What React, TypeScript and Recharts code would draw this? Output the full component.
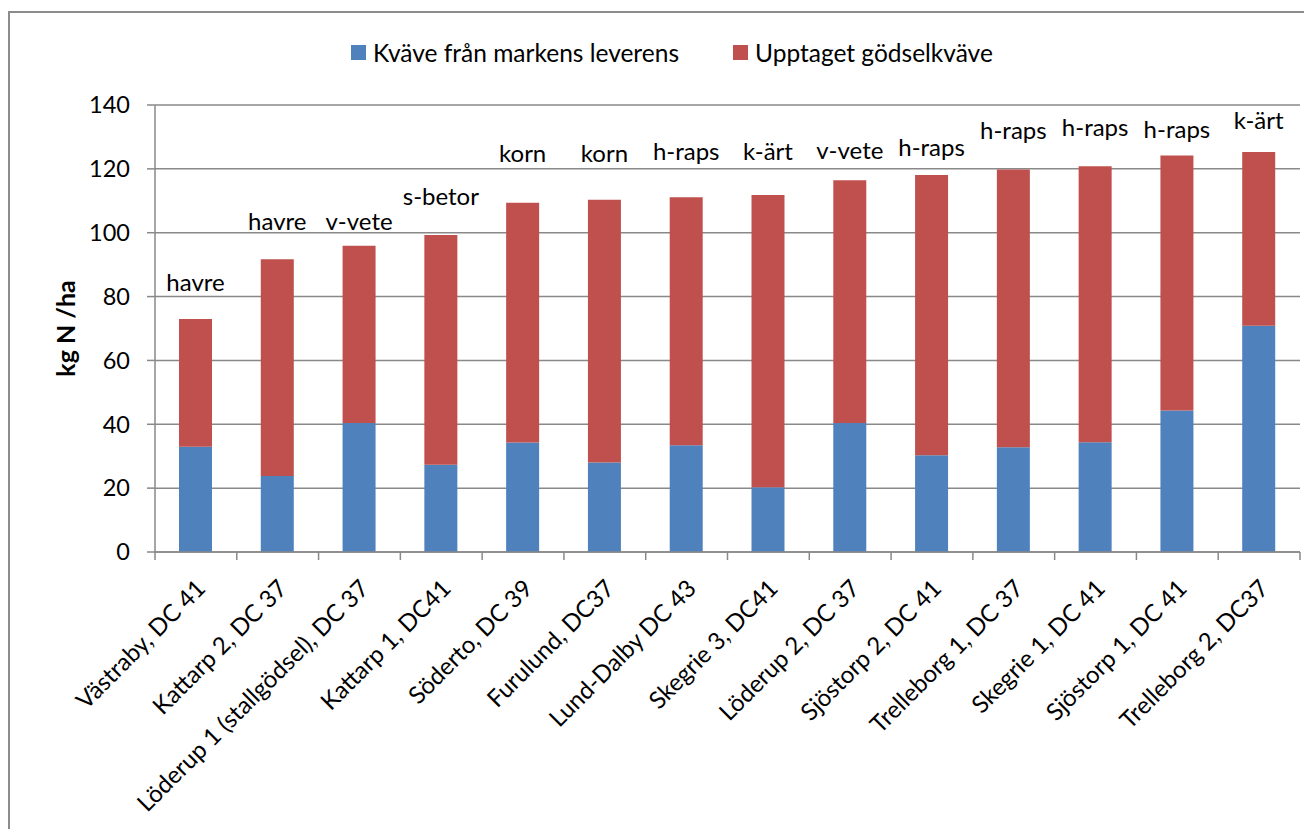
import React from 'react';
import { BarChart, Bar, XAxis, YAxis, CartesianGrid, LabelList } from 'recharts';

const sites = [
  'Västraby, DC 41',
  'Kattarp 2, DC 37',
  'Löderup 1 (stallgödsel), DC 37',
  'Kattarp 1, DC41',
  'Söderto, DC 39',
  'Furulund, DC37',
  'Lund-Dalby DC 43',
  'Skegrie 3, DC41',
  'Löderup 2, DC 37',
  'Sjöstorp 2, DC 41',
  'Trelleborg 1, DC 37',
  'Skegrie 1, DC 41',
  'Sjöstorp 1, DC 41',
  'Trelleborg 2, DC37',
];
const crops = ['havre', 'havre', 'v-vete', 's-betor', 'korn', 'korn', 'h-raps', 'k-ärt', 'v-vete', 'h-raps', 'h-raps', 'h-raps', 'h-raps', 'k-ärt'];
const soilN = [33.0, 23.8, 40.4, 27.3, 34.3, 28.0, 33.4, 20.3, 40.4, 30.3, 32.8, 34.4, 44.3, 70.9];
const manureN = [40.0, 67.9, 55.5, 72.0, 75.1, 82.3, 77.7, 91.5, 76.0, 87.8, 87.0, 86.4, 79.9, 54.4];
const yTicks = [0, 20, 40, 60, 80, 100, 120, 140];

// crop labels were moved by hand in the original, px above the bar top
const cropLift = [37, 39, 25, 39, 50, 47, 47, 45, 31, 28, 40, 40, 27, 32];

const data = sites.map((site, i) => ({ site, crop: crops[i], soil: soilN[i], manure: manureN[i] }));

const FONT = 'Lato, Carlito, Calibri, sans-serif';
const BLUE = '#4F81BD';
const RED = '#C0504D';
const GRID = '#898989';

const W = 1304;
const H = 813;
const PLOT_LEFT = 147;
const PLOT_RIGHT = 1292;
const PLOT_TOP = 97;
const PLOT_BOTTOM = 544;
const BAND = (PLOT_RIGHT - PLOT_LEFT) / sites.length;

const SiteTick = (props: any) => {
  const { x, y, payload, index } = props;
  const left = x - BAND / 2;
  return (
    <g>
      <line x1={left} y1={y} x2={left} y2={y + 8} stroke={GRID} strokeWidth={1.5} />
      {index === sites.length - 1 && (
        <line x1={x + BAND / 2} y1={y} x2={x + BAND / 2} y2={y + 8} stroke={GRID} strokeWidth={1.5} />
      )}
      <text
        transform={`translate(${x + 11},${y + 38}) rotate(-45)`}
        textAnchor="end"
        fontFamily={FONT}
        fontSize={24}
        fill="#000"
      >
        {payload.value}
      </text>
    </g>
  );
};

const CropLabel = (props: any) => {
  const { x, y, width, index } = props;
  return (
    <text
      x={x + width / 2}
      y={y - cropLift[index]}
      textAnchor="middle"
      dominantBaseline="central"
      fontFamily={FONT}
      fontSize={24}
      fill="#000"
    >
      {crops[index]}
    </text>
  );
};

const LegendItem = ({ color, label, left }: { color: string; label: string; left: number }) => (
  <div style={{ position: 'absolute', left, top: 30, height: 28, display: 'flex', alignItems: 'center' }}>
    <div style={{ width: 15, height: 15, background: color, marginRight: 7 }} />
    <span style={{ fontFamily: FONT, fontSize: 24.5, color: '#000', whiteSpace: 'nowrap' }}>{label}</span>
  </div>
);

export default function App() {
  return (
    <div style={{ position: 'relative', width: W, height: 821, overflow: 'hidden' }}>
      <div
        style={{
          position: 'absolute',
          left: 0,
          top: 3,
          width: 1330,
          height: 850,
          border: '2px solid #8c8c8c',
          boxSizing: 'border-box',
        }}
      />
      <LegendItem color={BLUE} label="Kväve från markens leverens" left={343} />
      <LegendItem color={RED} label="Upptaget gödselkväve" left={725} />
      <div style={{ position: 'absolute', left: 0, top: 0 }}>
        <BarChart
          width={W}
          height={H}
          data={data}
          margin={{ top: PLOT_TOP, right: W - PLOT_RIGHT, left: 0, bottom: 0 }}
          barSize={33}
        >
          <CartesianGrid vertical={false} stroke={GRID} strokeWidth={1.5} />
          <XAxis
            dataKey="site"
            interval={0}
            height={H - PLOT_BOTTOM}
            axisLine={{ stroke: GRID, strokeWidth: 1.5 }}
            tickLine={false}
            tickSize={0}
            tickMargin={0}
            tick={<SiteTick />}
          />
          <YAxis
            width={PLOT_LEFT}
            domain={[0, 140]}
            ticks={yTicks}
            interval={0}
            axisLine={{ stroke: GRID, strokeWidth: 1.5 }}
            tickLine={{ stroke: GRID, strokeWidth: 1.5 }}
            tickSize={8}
            tickMargin={17}
            tick={{ fontFamily: FONT, fontSize: 23.5, fill: '#000' }}
            label={{
              value: 'kg N /ha',
              angle: -90,
              position: 'center',
              dx: -15,
              style: { fontFamily: FONT, fontSize: 25, fontWeight: 700, fill: '#000' },
            }}
          />
          <Bar dataKey="soil" stackId="n" fill={BLUE} isAnimationActive={false} />
          <Bar dataKey="manure" stackId="n" fill={RED} isAnimationActive={false}>
            <LabelList dataKey="crop" content={<CropLabel />} />
          </Bar>
        </BarChart>
      </div>
    </div>
  );
}
